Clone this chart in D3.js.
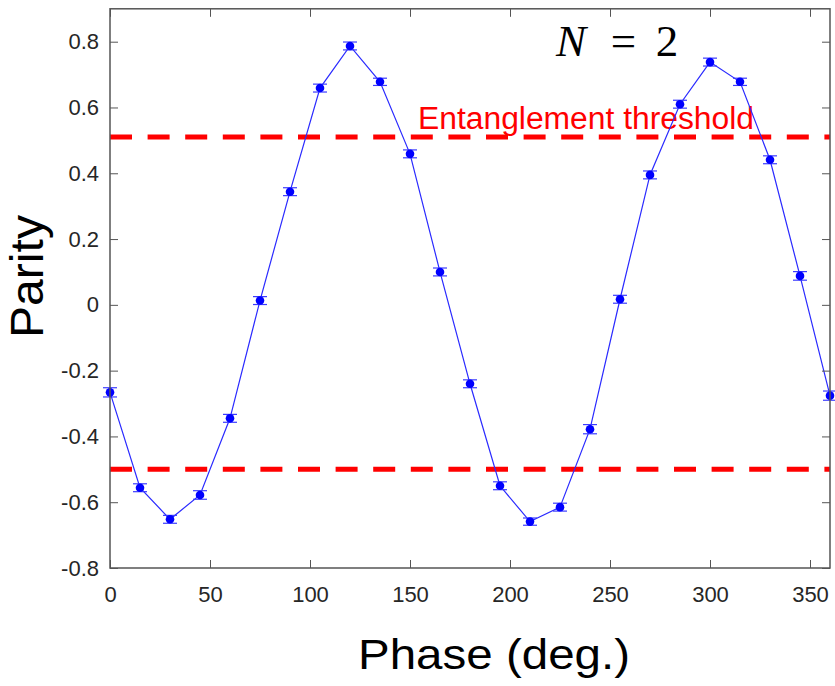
<!DOCTYPE html>
<html>
<head>
<meta charset="utf-8">
<script src="https://cdn.jsdelivr.net/npm/d3@7"></script>
<style>
  html, body { margin: 0; padding: 0; background: #fff; }
  svg { display: block; }
</style>
</head>
<body>
<svg id="chart" width="835" height="686"></svg>
<script>
// ---- data ----
const phase = [0, 15, 30, 45, 60, 75, 90, 105, 120, 135, 150, 165, 180, 195, 210, 225, 240, 255, 270, 285, 300, 315, 330, 345, 360];
const parity = [-0.266, -0.556, -0.652, -0.578, -0.345, 0.013, 0.344, 0.659, 0.787, 0.678, 0.459, 0.100, -0.240, -0.550, -0.659, -0.615, -0.378, 0.017, 0.395, 0.610, 0.738, 0.678, 0.441, 0.088, -0.276];
const parityErr = [0.014, 0.012, 0.012, 0.013, 0.012, 0.012, 0.012, 0.012, 0.012, 0.011, 0.012, 0.012, 0.012, 0.012, 0.011, 0.012, 0.014, 0.012, 0.012, 0.012, 0.012, 0.011, 0.012, 0.013, 0.014];
const thresholds = [0.51, -0.50];
const xTicks = [0, 50, 100, 150, 200, 250, 300, 350];
const yTicks = [-0.8, -0.6, -0.4, -0.2, 0, 0.2, 0.4, 0.6, 0.8];
const yTickLabels = ["-0.8", "-0.6", "-0.4", "-0.2", "0", "0.2", "0.4", "0.6", "0.8"];
const xLabel = "Phase (deg.)";
const yLabel = "Parity";
const thresholdLabel = "Entanglement threshold";

// ---- layout ----
const svg = d3.select("#chart");
const L = 110, R = 830, T = 8.8, B = 568;
const x = d3.scaleLinear().domain([0, 360]).range([L, R]);
const y = d3.scaleLinear().domain([-0.8, 0.9]).range([B, T]);
const axisColor = "#555";
const tickText = "#262626";
const font = "'Liberation Sans', Arial, sans-serif";

// threshold lines
svg.append("g").selectAll("line").data(thresholds).join("line")
  .attr("x1", x(0)).attr("x2", x(360))
  .attr("y1", d => y(d)).attr("y2", d => y(d))
  .attr("stroke", "#ff0000").attr("stroke-width", 5)
  .attr("stroke-dasharray", "22,15.6");

svg.append("text")
  .attr("x", 418).attr("y", 129)
  .attr("font-family", font).attr("font-size", 31)
  .attr("textLength", 336).attr("lengthAdjust", "spacingAndGlyphs")
  .attr("fill", "#ff0000")
  .text(thresholdLabel);

// data line
const pts = phase.map((p, i) => [p, parity[i], parityErr[i]]);
svg.append("path")
  .datum(pts)
  .attr("fill", "none")
  .attr("stroke", "#2a2aff").attr("stroke-width", 1.2)
  .attr("d", d3.line().x(d => x(d[0])).y(d => y(d[1])));

// error bars
const eb = svg.append("g").attr("stroke", "#3b3bff").attr("stroke-width", 1.2);
eb.selectAll("line.v").data(pts).join("line").attr("class", "v")
  .attr("x1", d => x(d[0])).attr("x2", d => x(d[0]))
  .attr("y1", d => y(d[1] - d[2])).attr("y2", d => y(d[1] + d[2]));
eb.selectAll("line.t").data(pts).join("line").attr("class", "t")
  .attr("x1", d => x(d[0]) - 7).attr("x2", d => x(d[0]) + 7)
  .attr("y1", d => y(d[1] + d[2])).attr("y2", d => y(d[1] + d[2]));
eb.selectAll("line.b").data(pts).join("line").attr("class", "b")
  .attr("x1", d => x(d[0]) - 7).attr("x2", d => x(d[0]) + 7)
  .attr("y1", d => y(d[1] - d[2])).attr("y2", d => y(d[1] - d[2]));

// markers
svg.append("g").selectAll("circle").data(pts).join("circle")
  .attr("cx", d => x(d[0])).attr("cy", d => y(d[1]))
  .attr("r", 4.3).attr("fill", "#0000ff");

// axes (MATLAB-like box with inward ticks)
const tickLen = 8;
function styleAxis(g) {
  g.select(".domain").remove();
  g.selectAll(".tick line").attr("stroke", axisColor).attr("stroke-width", 1);
  g.selectAll(".tick text").attr("fill", tickText).attr("font-family", font).attr("font-size", 22);
}
svg.append("g").attr("transform", `translate(0,${B})`)
  .call(d3.axisBottom(x).tickValues(xTicks).tickSize(-tickLen).tickPadding(18).tickFormat(d3.format("d")))
  .call(styleAxis);
svg.append("g").attr("transform", `translate(0,${y(0.9)})`)
  .call(d3.axisTop(x).tickValues(xTicks).tickSize(-tickLen).tickFormat(""))
  .call(styleAxis);
svg.append("g").attr("transform", `translate(${L},0)`)
  .call(d3.axisLeft(y).tickValues(yTicks).tickSize(-tickLen).tickPadding(11).tickFormat((d, i) => yTickLabels[i]))
  .call(styleAxis);
svg.append("g").attr("transform", `translate(${R},0)`)
  .call(d3.axisRight(y).tickValues(yTicks).tickSize(-tickLen).tickFormat(""))
  .call(styleAxis);

// frame
svg.append("rect")
  .attr("x", L).attr("y", y(0.9)).attr("width", R - L).attr("height", B - y(0.9))
  .attr("fill", "none").attr("stroke", axisColor).attr("stroke-width", 1.5);

// axis labels
svg.append("text")
  .attr("x", 358).attr("y", 669)
  .attr("font-family", font).attr("font-size", 42)
  .attr("textLength", 272).attr("lengthAdjust", "spacingAndGlyphs")
  .attr("fill", "#000")
  .text(xLabel);
svg.append("text")
  .attr("transform", `translate(43,338) rotate(-90)`)
  .attr("font-family", font).attr("font-size", 46)
  .attr("textLength", 123).attr("lengthAdjust", "spacingAndGlyphs")
  .attr("fill", "#000")
  .text(yLabel);

// N = 2 annotation
const ann = svg.append("g").attr("font-family", "'Liberation Serif', 'DejaVu Serif', serif").attr("font-size", 45).attr("fill", "#000");
ann.append("text").attr("x", 556).attr("y", 56).attr("font-style", "italic").text("N");
ann.append("text").attr("x", 623.5).attr("y", 56).attr("text-anchor", "middle").text("=");
ann.append("text").attr("x", 667).attr("y", 56).attr("text-anchor", "middle").text("2");
</script>
</body>
</html>
